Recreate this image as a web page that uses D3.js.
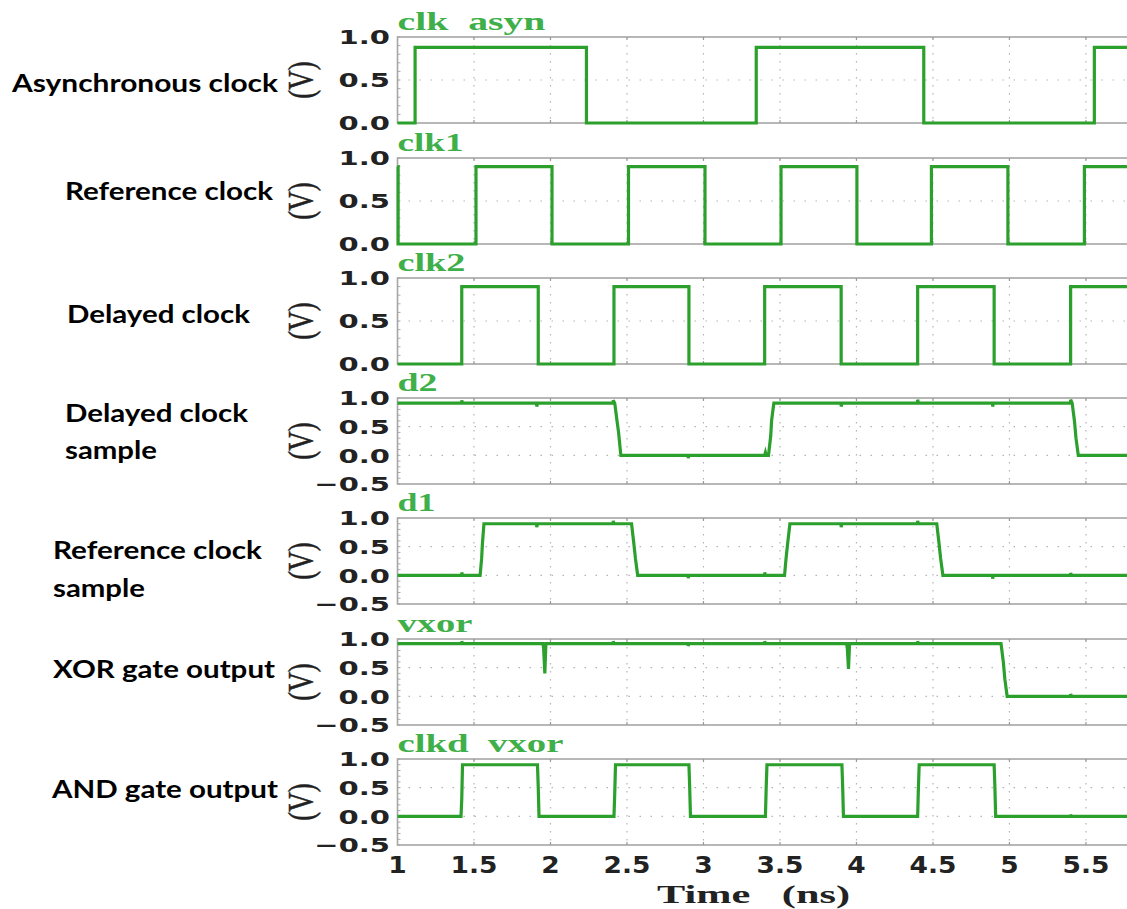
<!DOCTYPE html>
<html>
<head>
<meta charset="utf-8">
<script src="https://cdn.jsdelivr.net/npm/d3@7"></script>
<style>
  html, body { margin: 0; padding: 0; background: #fff; }
  svg { display: block; }
  text { white-space: pre; }
</style>
</head>
<body>
<svg id="chart" width="1127" height="909"></svg>
<script>
// time axis (ns)
const timeDomain = [1, 5.775];
const xTicks = [1, 1.5, 2, 2.5, 3, 3.5, 4, 4.5, 5, 5.5];

// panel titles and left captions
const titles = ['clk  asyn', 'clk1', 'clk2', 'd2', 'd1', 'vxor', 'clkd  vxor'];
const captions = [
  ['Asynchronous clock'],
  ['Reference clock'],
  ['Delayed clock'],
  ['Delayed clock', 'sample'],
  ['Reference clock', 'sample'],
  ['XOR gate output'],
  ['AND gate output'],
];
const yDomains = [[0, 1], [0, 1], [0, 1], [-0.5, 1], [-0.5, 1], [-0.5, 1], [-0.5, 1]];

// ideal clocks: edge times + level after each edge
const clkAsynT = [1, 1.115, 2.235, 3.345, 4.44, 5.555];
const clkAsynV = [0, 0.88, 0, 0.88, 0, 0.88];
const clk1T = [1, 1.004, 1.513, 2.01, 2.51, 3.01, 3.507, 4.003, 4.49, 4.99, 5.49];
const clk1V = [0.9, 0, 0.9, 0, 0.9, 0, 0.9, 0, 0.9, 0, 0.9];
const clk2T = [1, 1.42, 1.92, 2.415, 2.905, 3.4, 3.9, 4.4, 4.9, 5.4];
const clk2V = [0, 0.9, 0, 0.9, 0, 0.9, 0, 0.9, 0, 0.9];

// simulated (analog) waveforms as [t, v]
const d2 = [
  [1, 0.91], [1.42, 0.91], [1.42, 0.96], [1.425, 0.91], [1.91, 0.91], [1.91, 0.85], [1.915, 0.91],
  [2.41, 0.91], [2.41, 0.96], [2.42, 0.91], [2.435, 0.6], [2.445, 0.4], [2.46, 0], [2.9, 0],
  [2.9, -0.05], [2.905, 0], [3.4, 0], [3.405, 0.05], [3.41, 0], [3.425, 0], [3.44, 0.35],
  [3.445, 0.6], [3.46, 0.91], [3.9, 0.91], [3.9, 0.85], [3.905, 0.91], [4.4, 0.91], [4.4, 0.97],
  [4.405, 0.91], [4.89, 0.91], [4.89, 0.85], [4.895, 0.91], [5.4, 0.91], [5.4, 0.97], [5.41, 0.91],
  [5.425, 0.6], [5.435, 0.3], [5.45, 0], [5.775, 0],
];
const d1 = [
  [1, 0], [1.42, 0], [1.42, 0.05], [1.425, 0], [1.54, 0], [1.55, 0.3], [1.555, 0.55], [1.565, 0.9],
  [1.91, 0.9], [1.91, 0.84], [1.915, 0.9], [2.41, 0.9], [2.41, 0.95], [2.415, 0.9], [2.53, 0.9],
  [2.545, 0.55], [2.555, 0.3], [2.57, 0], [2.9, 0], [2.9, -0.05], [2.905, 0], [3.4, 0], [3.4, 0.05],
  [3.405, 0], [3.53, 0], [3.54, 0.3], [3.55, 0.55], [3.565, 0.9], [3.9, 0.9], [3.9, 0.84],
  [3.905, 0.9], [4.4, 0.9], [4.4, 0.95], [4.405, 0.9], [4.525, 0.9], [4.54, 0.55], [4.55, 0.3],
  [4.565, 0], [4.89, 0], [4.89, -0.06], [4.895, 0], [5.4, 0], [5.4, 0.04], [5.405, 0], [5.775, 0],
];
const vxor = [
  [1, 0.92], [1.42, 0.92], [1.42, 0.96], [1.425, 0.92], [1.95, 0.92], [1.955, 0.85], [1.963, 0.4],
  [1.97, 0.92], [2.41, 0.92], [2.41, 0.96], [2.415, 0.92], [2.9, 0.92], [2.9, 0.88], [2.905, 0.92],
  [3.4, 0.92], [3.4, 0.96], [3.405, 0.92], [3.935, 0.92], [3.94, 0.85], [3.948, 0.48], [3.955, 0.92],
  [4.4, 0.92], [4.4, 0.96], [4.405, 0.92], [4.945, 0.92], [4.96, 0.6], [4.97, 0.3], [4.985, 0],
  [5.4, 0], [5.4, 0.04], [5.405, 0], [5.775, 0],
];
const clkdVxor = [
  [1, 0], [1.415, 0], [1.42, 0.3], [1.425, 0.9], [1.915, 0.9], [1.92, 0.5], [1.925, 0],
  [2.415, 0], [2.42, 0.4], [2.425, 0.9], [2.905, 0.9], [2.91, 0.5], [2.915, 0], [3.405, 0],
  [3.41, 0.5], [3.415, 0.9], [3.905, 0.9], [3.91, 0.5], [3.915, 0], [4.4, 0], [4.405, 0.5],
  [4.41, 0.9], [4.9, 0.9], [4.905, 0.5], [4.91, 0], [5.4, 0], [5.4, 0.03], [5.405, 0], [5.775, 0],
];

const stepSeries = (ts, vs) => ts.map((t, i) => [t, vs[i]]).concat([[timeDomain[1], vs[vs.length - 1]]]);
const series = [
  { pts: stepSeries(clkAsynT, clkAsynV), curve: d3.curveStepAfter },
  { pts: stepSeries(clk1T, clk1V), curve: d3.curveStepAfter },
  { pts: stepSeries(clk2T, clk2V), curve: d3.curveStepAfter },
  { pts: d2, curve: d3.curveLinear },
  { pts: d1, curve: d3.curveLinear },
  { pts: vxor, curve: d3.curveLinear },
  { pts: clkdVxor, curve: d3.curveLinear },
];

// layout
const panelTop = [37, 158, 278, 398, 518, 639, 759];
const panelH = 86;
const plotLeft = 397.5;
const plotRight = 1128;
const green = '#2ca02c';
const titleGreen = '#3fb049';
const titleWidth = [148, 66, 68, 40, 38, 75, 166];
// caption line placement: [x, baseline, width]
const captionPos = [
  [[12, 92, 266]],
  [[65, 200, 208]],
  [[67, 323, 183]],
  [[65, 422, 183], [65, 459, 92]],
  [[53, 559, 209], [53, 597, 92]],
  [[53, 678, 222]],
  [[52, 798, 226]],
];

const svg = d3.select('#chart');
const x = d3.scaleLinear().domain(timeDomain).range([plotLeft, plotRight]);
const fmt = d3.format('.1f');

function stretch(sel, factor) {
  sel.each(function () {
    const w = this.getComputedTextLength();
    d3.select(this).attr('textLength', w * factor).attr('lengthAdjust', 'spacingAndGlyphs');
  });
}

series.forEach((s, i) => {
  const top = panelTop[i];
  const y = d3.scaleLinear().domain(yDomains[i]).range([top + panelH, top]);
  const g = svg.append('g').attr('class', 'panel');

  g.append('clipPath').attr('id', `clip${i}`)
    .append('rect')
    .attr('x', plotLeft - 2).attr('y', top - 6)
    .attr('width', plotRight - plotLeft + 4).attr('height', panelH + 12);

  // dotted grid
  g.selectAll('.vgrid').data(xTicks.slice(1)).enter()
    .append('line')
    .attr('x1', d => x(d)).attr('x2', d => x(d))
    .attr('y1', top).attr('y2', top + panelH)
    .attr('stroke', '#b4b4b4').attr('stroke-width', 1.2)
    .attr('stroke-dasharray', '1.5,6.5');
  const hg = d3.range(yDomains[i][0], yDomains[i][1], 0.5).filter(v => v > yDomains[i][0]);
  g.selectAll('.hgrid').data(hg).enter()
    .append('line')
    .attr('x1', plotLeft).attr('x2', plotRight)
    .attr('y1', d => y(d)).attr('y2', d => y(d))
    .attr('stroke', '#b4b4b4').attr('stroke-width', 1.2)
    .attr('stroke-dasharray', '1.5,9.5');

  // minor ticks on left frame
  const minor = d3.range(Math.round(yDomains[i][0] * 10), Math.round(yDomains[i][1] * 10) + 1).map(v => v / 10);
  g.selectAll('.minor').data(minor).enter()
    .append('line')
    .attr('x1', plotLeft).attr('x2', plotLeft + 3)
    .attr('y1', d => y(d)).attr('y2', d => y(d))
    .attr('stroke', '#aaa').attr('stroke-width', 1);

  // frame
  g.append('rect')
    .attr('x', plotLeft).attr('y', top)
    .attr('width', plotRight - plotLeft).attr('height', panelH)
    .attr('fill', 'none').attr('stroke', '#a6a6a6').attr('stroke-width', 1.6);

  // major ticks on top/bottom
  g.selectAll('.xt').data(xTicks.slice(1)).enter()
    .append('path')
    .attr('d', d => `M${x(d)},${top}v3M${x(d)},${top + panelH}v-3`)
    .attr('stroke', '#999').attr('stroke-width', 1.2);

  // waveform
  const line = d3.line().x(d => x(d[0])).y(d => y(d[1])).curve(s.curve);
  g.append('path')
    .datum(s.pts)
    .attr('clip-path', `url(#clip${i})`)
    .attr('d', line)
    .attr('fill', 'none')
    .attr('stroke', green)
    .attr('stroke-width', 3.2)
    .attr('stroke-linejoin', 'miter');

  // y tick labels
  const yt = d3.range(yDomains[i][0], yDomains[i][1] + 0.01, 0.5);
  g.selectAll('.ytl').data(yt).enter()
    .append('text')
    .attr('x', 390).attr('y', d => y(d))
    .attr('dy', '0.36em')
    .attr('text-anchor', 'end')
    .attr('font-family', 'DejaVu Sans')
    .attr('font-weight', 'bold')
    .attr('font-size', 20)
    .attr('fill', '#222')
    .text(d => fmt(d))
    .call(stretch, 1.45);

  // (V), glyphs widened like the source image
  g.append('text')
    .attr('transform', `translate(${313},${top + panelH / 2}) scale(1.3,1) rotate(-90)`)
    .attr('text-anchor', 'middle')
    .attr('font-family', 'Liberation Serif')
    .attr('font-size', 27)
    .attr('fill', '#222')
    .attr('stroke', '#222')
    .attr('stroke-width', 0.4)
    .text('(V)');

  // title
  g.append('text')
    .attr('x', plotLeft).attr('y', top - 7)
    .attr('font-family', 'Liberation Serif')
    .attr('font-weight', 'bold')
    .attr('font-size', 25)
    .attr('fill', titleGreen)
    .attr('textLength', titleWidth[i])
    .attr('lengthAdjust', 'spacingAndGlyphs')
    .text(titles[i]);

  // caption
  captions[i].forEach((txt, j) => {
    const [cx, cy, cw] = captionPos[i][j];
    svg.append('text')
      .attr('x', cx).attr('y', cy)
      .attr('font-family', 'Lato')
      .attr('font-weight', 'bold')
      .attr('font-size', 24)
      .attr('fill', '#000')
      .attr('textLength', cw)
      .attr('lengthAdjust', 'spacingAndGlyphs')
      .text(txt);
  });
});

// x axis labels
svg.selectAll('.xtl').data(xTicks).enter()
  .append('text')
  .attr('x', d => x(d)).attr('y', 873)
  .attr('text-anchor', 'middle')
  .attr('font-family', 'DejaVu Sans')
  .attr('font-weight', 'bold')
  .attr('font-size', 23)
  .attr('fill', '#222')
  .text(d => `${d}`)
  .call(stretch, 1.15);

svg.append('text')
  .attr('x', 657).attr('y', 903)
  .attr('font-family', 'Liberation Serif')
  .attr('font-weight', 'bold')
  .attr('font-size', 26)
  .attr('fill', '#222')
  .attr('textLength', 193)
  .attr('lengthAdjust', 'spacingAndGlyphs')
  .text('Time   (ns)');
</script>
</body>
</html>
